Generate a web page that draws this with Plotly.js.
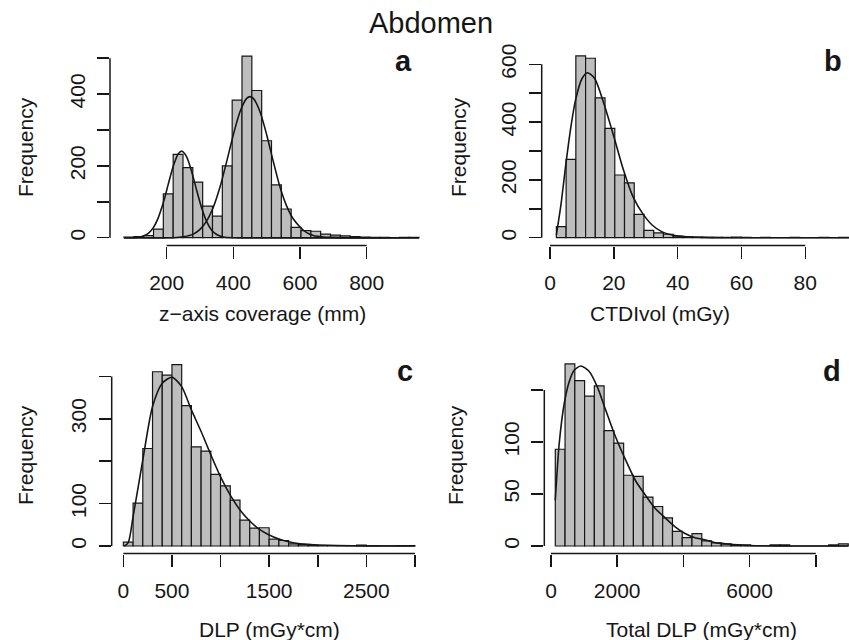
<!DOCTYPE html>
<html><head><meta charset="utf-8">
<script src="https://cdn.plot.ly/plotly-3.0.1.min.js"></script>
<style>html,body{margin:0;padding:0;background:#fff;} #chart{width:849px;height:640px;}</style>
</head><body><div id="chart"></div>
<script>
// ---------- Panel a: z-axis coverage (mm) ----------
const aBinStart = 72;
const aBinWidth = 29.5;
const aCounts = [2, 3, 6, 24, 122, 232, 195, 155, 88, 60, 200, 383, 506, 410, 270, 147, 80, 29, 20, 18, 10, 7, 5, 3, 2, 1, 1, 0, 1, 1];
const aCurve1X = [72, 110, 130, 145, 160, 175, 185, 195, 205, 220, 235, 246, 260, 275, 290, 305, 320, 335, 350, 370, 400, 957];
const aCurve1Y = [0, 0.5, 5, 12, 28, 56, 83, 114, 150, 200, 234, 241, 225, 184, 132, 83, 45, 21, 9, 2, 0, 0];
const aCurve2X = [72, 220, 250, 280, 300, 320, 340, 360, 380, 400, 420, 440, 450, 460, 480, 500, 520, 540, 560, 580, 600, 620, 640, 670, 700, 750, 957];
const aCurve2Y = [0, 0, 2.6, 10, 23, 47, 85, 141, 212, 287, 351, 388, 393, 388, 351, 287, 212, 141, 88, 52, 30, 14, 6, 2, 1, 0, 0];
const aXTicks = [200, 400, 600, 800];
const aXLabels = ["200", "400", "600", "800"];
const aYTicks = [0, 100, 200, 300, 400, 500];
const aYLabels = ["0", "", "200", "", "400", ""];

// ---------- Panel b: CTDIvol (mGy) ----------
const bBinStart = 2;
const bBinWidth = 3.05;
const bCounts = [38, 271, 629, 621, 484, 378, 217, 190, 81, 25, 17, 12, 5, 3, 2, 1, 1, 1, 2, 1, 0, 1, 0, 0, 1, 0, 0, 1, 0, 1];
const bCurveX = [2, 3.5, 5, 6.5, 8, 10, 11.7, 14, 17, 20, 23, 26, 29, 32, 35, 38, 42, 48, 55, 94];
const bCurveY = [10, 120, 257, 380, 476, 550, 571, 551, 460, 350, 235, 142, 84, 44, 21, 10, 4, 1, 0, 0];
const bXTicks = [0, 20, 40, 60, 80];
const bXLabels = ["0", "20", "40", "60", "80"];
const bYTicks = [0, 100, 200, 300, 400, 500, 600];
const bYLabels = ["0", "", "200", "", "400", "", "600"];

// ---------- Panel c: DLP (mGy*cm) ----------
const cBinStart = 0;
const cBinWidth = 100;
const cCounts = [9, 101, 230, 411, 403, 428, 331, 234, 224, 169, 142, 108, 61, 42, 43, 16, 13, 5, 3, 2, 1, 1, 0, 1, 2, 1, 0, 0, 1, 1];
const cCurveX = [10, 50, 100, 200, 300, 400, 500, 600, 700, 800, 900, 1000, 1100, 1200, 1300, 1400, 1500, 1600, 1700, 1800, 1900, 2000, 2200, 2500, 3000];
const cCurveY = [0, 8, 69, 203, 329, 384, 398, 376, 321, 270, 215, 163, 120, 85, 59, 39, 26, 16.5, 10, 6, 4, 2.5, 1, 0.3, 0];
const cXTicks = [0, 500, 1000, 1500, 2000, 2500, 3000];
const cXLabels = ["0", "500", "", "1500", "", "2500", ""];
const cYTicks = [0, 100, 200, 300, 400];
const cYLabels = ["0", "100", "", "300", ""];

// ---------- Panel d: Total DLP (mGy*cm) ----------
const dBinStart = 130;
const dBinWidth = 295;
const dCounts = [93, 175, 159, 144, 154, 111, 99, 68, 67, 47, 38, 27, 14, 8, 12, 5, 3, 2, 1, 1, 0, 0, 1, 1, 0, 0, 0, 0, 1, 2];
const dCurveX = [130, 250, 400, 550, 700, 900, 1150, 1400, 1650, 1950, 2250, 2550, 2850, 3150, 3450, 3750, 4050, 4350, 4650, 5000, 5500, 6000, 7000, 8980];
const dCurveY = [44, 99, 137, 158, 169, 173, 168, 153, 131, 105, 83, 63, 49, 36, 27, 18.5, 12, 8, 6, 3, 1.5, 0.5, 0, 0];
const dXTicks = [0, 2000, 4000, 6000, 8000];
const dXLabels = ["0", "2000", "", "6000", ""];
const dYTicks = [0, 50, 100, 150];
const dYLabels = ["0", "50", "100", ""];

// ---------- drawing ----------
const W = 849, H = 640;
const FONT = '"Liberation Sans", Arial, Helvetica, sans-serif';
const INK = '#161616';

function barTrace(start, width, counts, xa, ya) {
  const xs = counts.map((_, i) => start + width * (i + 0.5));
  return {type: 'bar', x: xs, y: counts, width: width, xaxis: xa, yaxis: ya,
    marker: {color: '#bebebe', line: {color: INK, width: 1.2}}, hoverinfo: 'skip', showlegend: false};
}
function curveTrace(xs, ys, xa, ya) {
  return {type: 'scatter', mode: 'lines', x: xs, y: ys, xaxis: xa, yaxis: ya,
    line: {color: INK, width: 1.6, shape: 'spline', smoothing: 0.7}, hoverinfo: 'skip', showlegend: false};
}
function px(x) { return x / W; }
function py(y) { return 1 - y / H; }

function xAxis(d0, d1, range, tv, tt, anchor) {
  return {domain: [px(d0), Math.min(1, px(d1))], range: range, anchor: anchor,
    tickmode: 'array', tickvals: tv, ticktext: tt, ticks: 'outside', ticklen: 12, tickwidth: 1.5,
    tickcolor: INK, showline: false, showgrid: false, zeroline: false,
    tickfont: {family: FONT, size: 21, color: INK}, ticklabelstandoff: 6, fixedrange: true};
}
function yAxis(top, bottom, range, tv, tt, anchor) {
  return {domain: [py(bottom), py(top)], range: range, anchor: anchor,
    tickmode: 'array', tickvals: tv, ticktext: tt, ticks: 'outside', ticklen: 12, tickwidth: 1.5,
    tickcolor: INK, showline: false, showgrid: false, zeroline: false, tickangle: -90,
    tickfont: {family: FONT, size: 21, color: INK}, ticklabelstandoff: 4, fixedrange: true};
}
function axisLines(xa, ya, xt, yt) {
  return [
    {type: 'line', xref: xa, yref: ya + ' domain', x0: xt[0], x1: xt[xt.length - 1], y0: 0, y1: 0,
      line: {color: INK, width: 1.5}},
    {type: 'line', xref: xa + ' domain', yref: ya, x0: 0, x1: 0, y0: yt[0], y1: yt[yt.length - 1],
      line: {color: INK, width: 1.5}}
  ];
}
function ann(text, x, y, size, opts) {
  return Object.assign({text: text, x: px(x), y: py(y), xref: 'paper', yref: 'paper',
    xanchor: 'center', yanchor: 'middle', showarrow: false,
    font: {family: FONT, size: size, color: INK}}, opts || {});
}

const data = [
  barTrace(aBinStart, aBinWidth, aCounts, 'x', 'y'),
  curveTrace(aCurve1X, aCurve1Y, 'x', 'y'),
  curveTrace(aCurve2X, aCurve2Y, 'x', 'y'),
  barTrace(bBinStart, bBinWidth, bCounts, 'x2', 'y2'),
  curveTrace(bCurveX, bCurveY, 'x2', 'y2'),
  barTrace(cBinStart, cBinWidth, cCounts, 'x3', 'y3'),
  curveTrace(cCurveX, cCurveY, 'x3', 'y3'),
  barTrace(dBinStart, dBinWidth, dCounts, 'x4', 'y4'),
  curveTrace(dCurveX, dCurveY, 'x4', 'y4')
];

const layout = {
  width: W, height: H, margin: {l: 0, r: 0, t: 0, b: 0, pad: 0},
  paper_bgcolor: '#fff', plot_bgcolor: 'rgba(0,0,0,0)', bargap: 0,
  font: {family: FONT, color: INK},
  title: {text: 'Abdomen', x: px(431), xanchor: 'center', y: py(23), yanchor: 'middle',
    font: {family: FONT, size: 29, color: INK}},
  xaxis: xAxis(110, 428, [30, 984], aXTicks, aXLabels, 'y'),
  yaxis: yAxis(49, 245.5, [-21.7, 525.6], aYTicks, aYLabels, 'x'),
  xaxis2: xAxis(541.7, 849, [-2.6, 93.7], bXTicks, bXLabels, 'y2'),
  yaxis2: yAxis(49, 245.5, [-27, 653], bYTicks, bYLabels, 'x2'),
  xaxis3: xAxis(111.7, 426.6, [-120, 3120], cXTicks, cXLabels, 'y3'),
  yaxis3: yAxis(357, 553.5, [-17.7, 445.8], cYTicks, cYLabels, 'x3'),
  xaxis4: xAxis(544.3, 849, [-202, 9003], dXTicks, dXLabels, 'y4'),
  yaxis4: yAxis(357, 553.5, [-7.2, 181.7], dYTicks, dYLabels, 'x4'),
  shapes: [].concat(
    axisLines('x', 'y', aXTicks, aYTicks),
    axisLines('x2', 'y2', bXTicks, bYTicks),
    axisLines('x3', 'y3', cXTicks, cYTicks),
    axisLines('x4', 'y4', dXTicks, dYTicks)
  ),
  annotations: [
    ann('z\u2212axis coverage (mm)', 262, 313, 21),
    ann('CTDIvol (mGy)', 660, 313, 21),
    ann('DLP (mGy*cm)', 269, 629, 21),
    ann('Total DLP (mGy*cm)', 701, 629, 21),
    ann('Frequency', 25, 147, 21, {textangle: -90}),
    ann('Frequency', 458, 147, 21, {textangle: -90}),
    ann('Frequency', 25, 455, 21, {textangle: -90}),
    ann('Frequency', 455, 455, 21, {textangle: -90}),
    ann('<b>a</b>', 403, 61, 29),
    ann('<b>b</b>', 833, 61, 29),
    ann('<b>c</b>', 405, 371, 29),
    ann('<b>d</b>', 832, 371, 29)
  ]
};

Plotly.newPlot('chart', data, layout, {staticPlot: true, displayModeBar: false});
</script>
</body></html>
